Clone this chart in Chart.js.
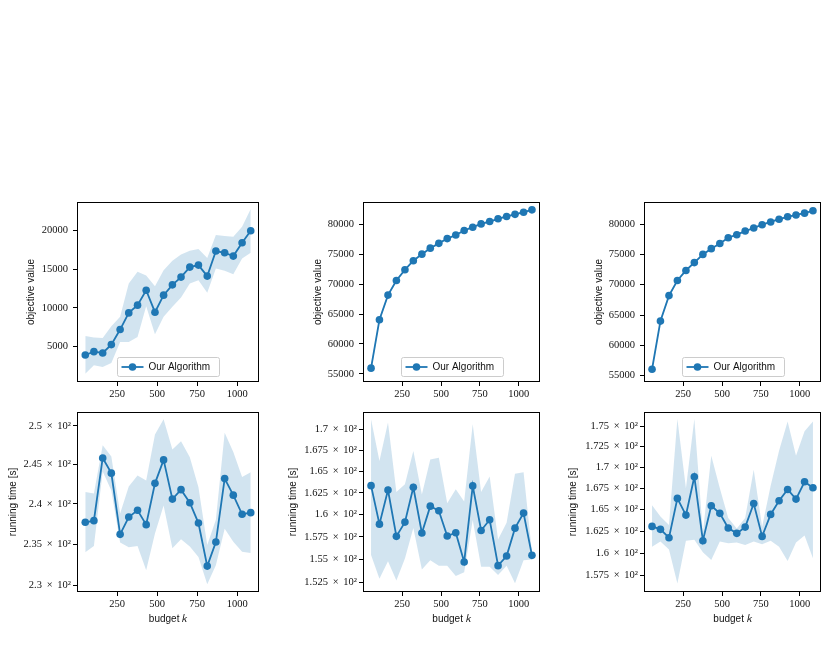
<!DOCTYPE html>
<html>
<head>
<meta charset="utf-8">
<script src="https://cdn.jsdelivr.net/npm/chart.js@4.4.1/dist/chart.umd.min.js"></script>
<style>
  html, body { margin: 0; padding: 0; background: #fff; }
  #fig { position: relative; width: 828px; height: 647px; }
  #fig canvas { position: absolute; }
</style>
</head>
<body>
<div id="fig"></div>
<script>
// budget k on the x axis (same for all six panels)
const budget = [50, 104, 159, 213, 268, 322, 377, 431, 486, 540, 595, 649, 704, 758, 813, 867, 922, 976, 1031, 1085];
const xTicks = [250, 500, 750, 1000];

// top row: objective value
const objA = [3920, 4350, 4180, 5260, 7200, 9350, 10350, 12280, 9440, 11640, 12970, 13970, 15260, 15520, 14100, 17330, 17110, 16680, 18400, 19960];
const objAHigh = [6380, 6160, 6120, 7630, 8840, 13150, 14650, 14180, 12800, 14870, 16080, 16900, 17370, 17590, 16420, 19400, 19270, 19180, 20470, 22760];
const objALow = [1510, 2590, 2370, 2890, 5600, 5600, 6250, 10220, 6600, 8840, 10130, 11340, 13150, 13580, 11940, 15090, 14780, 14350, 16380, 17110];

const objB = [55960, 64040, 68160, 70600, 72400, 73900, 75000, 76000, 76800, 77600, 78200, 78950, 79500, 80050, 80450, 80900, 81300, 81650, 82000, 82400];
const objBHigh = [56400, 64350, 68450, 70850, 72650, 74100, 75200, 76200, 76950, 77750, 78350, 79100, 79650, 80200, 80600, 81050, 81450, 81800, 82150, 82550];
const objBLow = [55300, 63700, 67850, 70350, 72150, 73700, 74800, 75800, 76650, 77450, 78050, 78800, 79350, 79900, 80300, 80750, 81150, 81500, 81850, 82250];

const objC = [56050, 64000, 68200, 70700, 72350, 73650, 75000, 75950, 76800, 77750, 78250, 78850, 79350, 79900, 80350, 80800, 81200, 81500, 81800, 82200];
const objCHigh = [56400, 64300, 68450, 70900, 72600, 73850, 75200, 76150, 76950, 77900, 78400, 79000, 79500, 80050, 80500, 80950, 81350, 81650, 81950, 82350];
const objCLow = [55700, 63700, 67950, 70500, 72100, 73450, 74800, 75750, 76650, 77600, 78100, 78700, 79200, 79750, 80200, 80650, 81050, 81350, 81650, 82050];

const objTicksA = [5000, 10000, 15000, 20000];
const objTicksBC = [55000, 60000, 65000, 70000, 75000, 80000];

// bottom row: running time [s]
const timeD = [237.7, 237.9, 245.85, 243.9, 236.2, 238.35, 239.2, 237.4, 242.6, 245.6, 240.6, 241.8, 240.15, 237.6, 232.3, 235.25, 243.2, 241.1, 238.7, 238.9];
const timeDHigh = [241.5, 241.3, 247.5, 246.05, 238.8, 242.2, 243.6, 242.95, 248.9, 250.9, 246.95, 248.0, 245.95, 242.1, 234.9, 238.0, 249.1, 246.6, 243.4, 244.0];
const timeDLow = [234.0, 234.75, 244.1, 241.7, 235.2, 234.6, 234.75, 231.8, 236.3, 239.8, 234.5, 235.6, 234.7, 233.4, 230.1, 232.4, 236.9, 235.3, 234.05, 233.9];

const timeE = [163.33, 158.93, 162.83, 157.56, 159.16, 163.14, 157.93, 160.97, 160.44, 157.59, 157.96, 154.72, 163.30, 158.22, 159.42, 154.32, 155.38, 158.48, 160.18, 155.45];
const timeEHigh = [171.2, 166.2, 170.8, 162.6, 163.5, 167.4, 162.3, 166.4, 166.6, 161.3, 162.9, 161.5, 170.6, 162.6, 164.4, 157.2, 159.1, 164.7, 164.9, 155.8];
const timeELow = [155.5, 152.9, 154.8, 152.7, 155.1, 158.5, 153.9, 154.9, 154.3, 154.3, 153.2, 153.6, 159.4, 154.2, 154.2, 153.3, 154.3, 152.4, 154.9, 155.0];

const timeF = [163.04, 162.70, 161.74, 166.30, 164.35, 168.87, 161.40, 165.44, 164.55, 162.85, 162.24, 162.96, 165.71, 161.89, 164.43, 166.03, 167.36, 166.22, 168.27, 167.56];
const timeFHigh = [165.5, 164.2, 163.2, 175.9, 167.5, 175.9, 162.3, 171.4, 167.5, 164.0, 162.8, 164.0, 169.7, 163.0, 167.8, 172.0, 175.6, 171.4, 174.4, 175.6];
const timeFLow = [160.7, 161.3, 160.4, 156.6, 161.4, 161.5, 160.1, 159.2, 161.3, 161.1, 161.2, 160.9, 161.3, 161.0, 161.4, 160.7, 159.1, 161.2, 162.0, 159.4];

const timeTicksD = [230, 235, 240, 245, 250];
const timeTicksE = [152.5, 155, 157.5, 160, 162.5, 165, 167.5, 170];
const timeTicksF = [157.5, 160, 162.5, 165, 167.5, 170, 172.5, 175];

const blue = '#1f77b4';
const serif = "'Liberation Serif', 'DejaVu Serif', serif";
const sans = "'Liberation Sans', 'DejaVu Sans', sans-serif";

// draws the axes frame and (top row only) the in-axes legend box
const frameAndLegend = {
    id: 'frameAndLegend',
    afterDatasetsDraw(chart, args, opts) {
        if (!opts.legend) return
        const ctx = chart.ctx
        const a = chart.chartArea
        const w = 102, h = 19
        const x = Math.round((a.left + a.right) / 2 - w / 2) + 0.5
        const y = Math.round(a.bottom - 6 - h) + 0.5
        ctx.save()
        ctx.beginPath()
        ctx.roundRect(x, y, w, h, 2)
        ctx.fillStyle = 'rgba(255,255,255,0.8)'
        ctx.fill()
        ctx.strokeStyle = '#cccccc'
        ctx.lineWidth = 1
        ctx.stroke()
        ctx.beginPath()
        ctx.moveTo(x + 4, y + h / 2)
        ctx.lineTo(x + 26, y + h / 2)
        ctx.strokeStyle = blue
        ctx.lineWidth = 1.8
        ctx.stroke()
        ctx.beginPath()
        ctx.arc(x + 15, y + h / 2, 3.8, 0, Math.PI * 2)
        ctx.fillStyle = blue
        ctx.fill()
        ctx.fillStyle = '#111'
        ctx.font = '10px ' + sans
        ctx.textBaseline = 'middle'
        ctx.fillText(chart.data.datasets[0].label, x + 31, y + h / 2 + 0.5)
        ctx.restore()
    },
    afterDraw(chart) {
        const ctx = chart.ctx
        const a = chart.chartArea
        ctx.save()
        ctx.strokeStyle = '#000'
        ctx.lineWidth = 1
        ctx.strokeRect(Math.round(a.left) + 0.5, Math.round(a.top) + 0.5,
            Math.round(a.right - a.left) - 1, Math.round(a.bottom - a.top) - 1)
        ctx.restore()
    }
};

function fmtLog(v) {
    return parseFloat((v / 100).toFixed(4)) + ' \u2009\u00d7\u2009 10\u00b2'
}

const panels = [
    { mean: objA, high: objAHigh, low: objALow, yTicks: objTicksA, log: false, ymin: 431, ymax: 23664,
      ytitle: 'objective value', left: 0, top: 195, w: 270, h: 205, axL: 77, axR: 259, axT: 202, axB: 382, titlePad: 25 },
    { mean: objB, high: objBHigh, low: objBLow, yTicks: objTicksBC, log: false, ymin: 53651, ymax: 83709,
      ytitle: 'objective value', left: 280, top: 195, w: 270, h: 205, axL: 363, axR: 540, axT: 202, axB: 382, titlePad: 32 },
    { mean: objC, high: objCHigh, low: objCLow, yTicks: objTicksBC, log: false, ymin: 53951, ymax: 83643,
      ytitle: 'objective value', left: 560, top: 195, w: 268, h: 205, axL: 644, axR: 821, axT: 202, axB: 382, titlePad: 33 },
    { mean: timeD, high: timeDHigh, low: timeDLow, yTicks: timeTicksD, log: true, ymin: 229.17, ymax: 251.84,
      ytitle: 'running time [s]', left: 0, top: 405, w: 270, h: 227, axL: 77, axR: 259, axT: 412, axB: 592, titlePad: 7 },
    { mean: timeE, high: timeEHigh, low: timeELow, yTicks: timeTicksE, log: true, ymin: 151.46, ymax: 172.09,
      ytitle: 'running time [s]', left: 280, top: 405, w: 270, h: 227, axL: 363, axR: 540, axT: 412, axB: 592, titlePad: 7 },
    { mean: timeF, high: timeFHigh, low: timeFLow, yTicks: timeTicksF, log: true, ymin: 155.65, ymax: 176.78,
      ytitle: 'running time [s]', left: 560, top: 405, w: 268, h: 227, axL: 644, axR: 821, axT: 412, axB: 592, titlePad: 7 }
];

const fig = document.getElementById('fig')

panels.forEach(p => {
    const cv = document.createElement('canvas')
    cv.width = p.w
    cv.height = p.h
    cv.style.left = p.left + 'px'
    cv.style.top = p.top + 'px'
    fig.appendChild(cv)

    const pts = arr => arr.map((v, i) => ({ x: budget[i], y: v }))
    const bottomRow = p.log

    new Chart(cv, {
        type: 'line',
        data: {
            datasets: [
                {
                    label: 'Our Algorithm',
                    data: pts(p.mean),
                    borderColor: blue,
                    backgroundColor: blue,
                    borderWidth: 1.8,
                    pointRadius: 3.8,
                    pointBorderWidth: 0,
                    tension: 0,
                    fill: false
                },
                {
                    data: pts(p.high),
                    borderWidth: 0,
                    pointRadius: 0,
                    backgroundColor: 'rgba(31,119,180,0.2)',
                    fill: '+1'
                },
                {
                    data: pts(p.low),
                    borderWidth: 0,
                    pointRadius: 0,
                    fill: false
                }
            ]
        },
        options: {
            responsive: false,
            animation: false,
            devicePixelRatio: 1,
            layout: {
                padding: { left: 0, top: p.axT - p.top, right: p.left + p.w - p.axR, bottom: 0 }
            },
            plugins: {
                legend: { display: false },
                tooltip: { enabled: false },
                frameAndLegend: { legend: !bottomRow }
            },
            scales: {
                x: {
                    type: 'linear',
                    min: -1.75,
                    max: 1136.75,
                    afterFit: s => {
                        s.height = p.top + p.h - p.axB
                        s.paddingLeft = 0
                        s.paddingRight = 0
                    },
                    afterBuildTicks: s => { s.ticks = xTicks.map(v => ({ value: v })) },
                    ticks: {
                        font: { family: serif, size: 10.5 },
                        color: '#111',
                        padding: 2,
                        maxRotation: 0,
                        autoSkip: false,
                        callback: v => String(v)
                    },
                    grid: { display: true, drawOnChartArea: false, drawTicks: true, tickLength: 4, tickColor: '#000', tickWidth: 1 },
                    border: { display: false },
                    title: {
                        display: bottomRow,
                        text: 'budget \u{1D458}',
                        font: { family: sans, size: 10 },
                        color: '#111',
                        padding: { top: 0, bottom: 7 }
                    }
                },
                y: {
                    type: p.log ? 'logarithmic' : 'linear',
                    min: p.ymin,
                    max: p.ymax,
                    afterFit: s => {
                        s.width = p.axL - p.left
                        s.paddingTop = 0
                        s.paddingBottom = 0
                    },
                    afterBuildTicks: s => { s.ticks = p.yTicks.map(v => ({ value: v })) },
                    ticks: {
                        font: { family: serif, size: 10.5 },
                        color: '#111',
                        padding: p.log ? 2 : 5,
                        autoSkip: false,
                        callback: v => p.log ? fmtLog(v) : String(v)
                    },
                    grid: { display: true, drawOnChartArea: false, drawTicks: true, tickLength: 4, tickColor: '#000', tickWidth: 1 },
                    border: { display: false },
                    title: {
                        display: true,
                        text: p.ytitle,
                        font: { family: sans, size: 10 },
                        color: '#111',
                        padding: { top: p.titlePad, bottom: 0 }
                    }
                }
            }
        },
        plugins: [frameAndLegend]
    })
})
</script>
</body>
</html>
